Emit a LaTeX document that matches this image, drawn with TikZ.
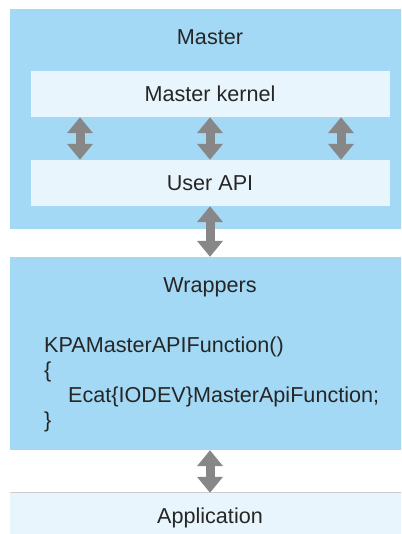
\documentclass[tikz,border=0pt]{standalone}
\usepackage{fontspec}
\setmainfont{Liberation Sans}
\usetikzlibrary{arrows.meta}
\definecolor{layerblue}{HTML}{A3D9F5}
\definecolor{paleblue}{HTML}{E8F5FD}
\definecolor{arrowgray}{HTML}{878787}
\definecolor{textgray}{HTML}{262626}
\tikzset{
	layer/.style={shape=rectangle,fill=layerblue,minimum width=400pt,inner sep=0pt},
	pale/.style={shape=rectangle,fill=paleblue,minimum width=359pt,minimum height=46pt,inner sep=0pt,text height=15.5pt,text depth=0pt,font=\fontsize{21.6}{25}\selectfont,text=textgray},
	title/.style={anchor=base,inner sep=0pt,font=\fontsize{21.6}{25}\selectfont,text=textgray},
	updown/.style={draw=arrowgray,line width=9pt,{Triangle[width=25pt,length=16pt]}-{Triangle[width=25pt,length=16pt]}}
}

\begin{document}
\begin{tikzpicture}[x=1pt,y=-1pt]
	\useasboundingbox (0,0) rectangle (401,534);
	\fill[white] (0,0) rectangle (401,534);
	\clip (0,0) rectangle (401,534);
	% layers
	\node (master) [layer,minimum height=220pt] at (210,119) {};
	\node (wrap) [layer,minimum height=193pt] at (210,353.5) {};
	\node (app) [pale,minimum width=400pt,minimum height=60pt] at (210,523) {};
	\draw[draw=black!20,line width=0.8pt] (app.north west) -- (app.north east);
	% titles
	\node (mastertitle) [title] at (210,45) {Master};
	\node (wraptitle) [title] at (210,292) {Wrappers};
	\node (apptitle) [title] at (210,523) {Application};
	% inner boxes
	\node (kern) [pale] at (210,94) {Master kernel};
	\node (api) [pale] at (210,183) {User API};
	\node (code) [title,anchor=base west,text width=345pt,align=left] at (44,352)
		{KPAMasterAPIFunction()\\ \{\\ \hspace*{24pt}Ecat\{IODEV\}MasterApiFunction;\\ \}};
	% arrows
	\foreach \dx in {-130,0,131}
		\draw[updown] ([xshift=\dx pt]kern.south) -- ([xshift=\dx pt]api.north);
	\draw[updown] (api.south) -- (wrap.north -| api.south);
	\draw[updown] (wrap.south -| api.south) -- (app.north -| api.south);
\end{tikzpicture}
\end{document}
